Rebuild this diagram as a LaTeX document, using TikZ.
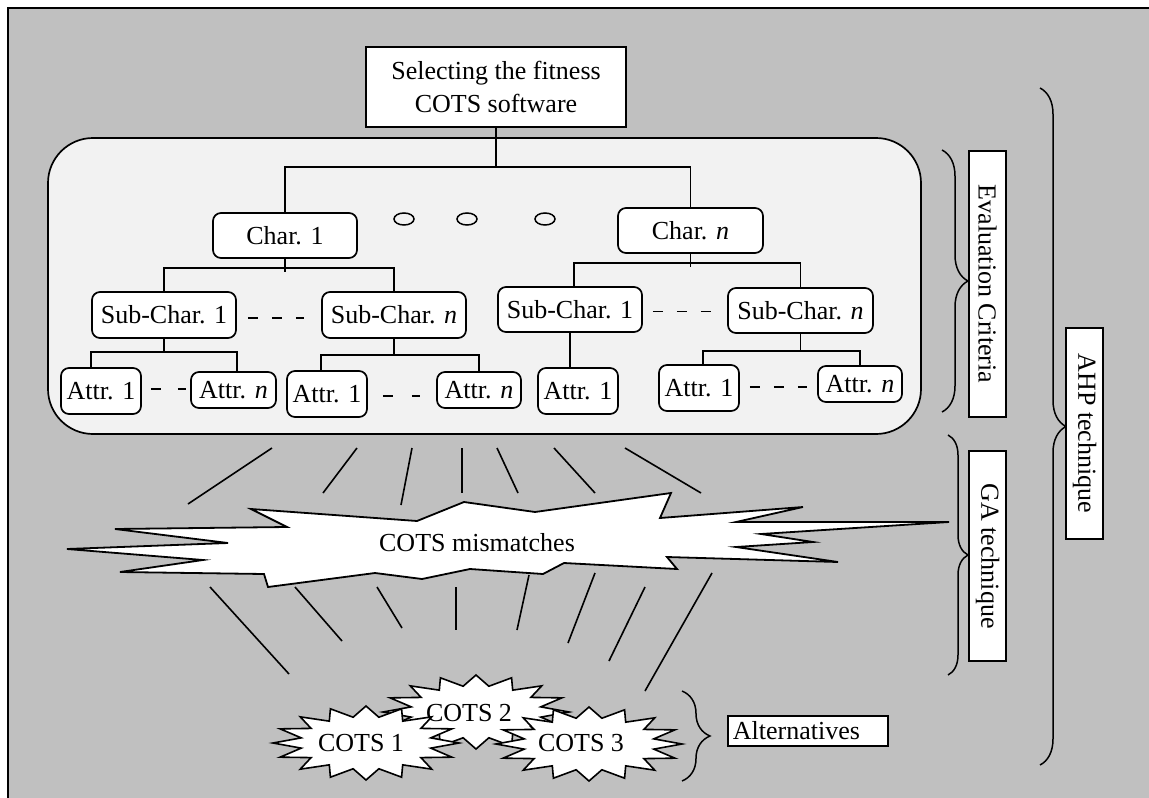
\documentclass[tikz,border=0pt]{standalone}
\usepackage{fontspec}
\setmainfont{Liberation Serif}
\usetikzlibrary{decorations.pathreplacing}
\definecolor{panel}{HTML}{C0C0C0}
\definecolor{critfill}{HTML}{F2F2F2}
\begin{document}
\begin{tikzpicture}[x=1pt,y=-1pt,
  txt/.style={font=\fontsize{26}{33}\selectfont},
  rbox/.style={txt, draw, fill=white, rounded corners=8pt, line width=1.7pt, inner sep=0pt},
  sbox/.style={txt, draw, fill=white, line width=1.7pt, inner sep=0pt},
  link/.style={line width=1.6pt},
  gap/.style={line width=1.6pt, dash pattern=on 10pt off 14pt},
  ray/.style={line width=1.6pt},
  burst/.style={draw, fill=white, line width=1.8pt, line join=miter},
  curly/.style={decorate, decoration={brace, amplitude=#1}, line width=1.5pt}
]
% page and grey panel
\useasboundingbox (0,0) rectangle (1149,798);
\fill[white] (0,0) rectangle (1149,798);
\clip (0,0) rectangle (1149,798);
\draw[fill=panel, line width=1.5pt] (8,8) rectangle (1170,820);

% evaluation-criteria area
\draw[fill=critfill, line width=1.7pt, rounded corners=45pt] (48,138) rectangle (921,434);

% goal
\node[sbox, minimum width=260pt, minimum height=80pt, align=center] (goal) at (496,87)
  {Selecting the fitness\\COTS software};

% characteristics
\node[rbox, minimum width=144pt, minimum height=45pt] (char1) at (285,235.5) {Char. 1};
\node[rbox, minimum width=145pt, minimum height=45pt] (charn) at (690.5,230.5) {Char. \textit{n}};
\foreach \cx in {404,467,545} \draw[line width=1.5pt] (\cx,219) ellipse [x radius=10pt, y radius=6pt];

% sub-characteristics
\node[rbox, minimum width=144pt, minimum height=46pt] (sc1a) at (164,315) {Sub-Char. 1};
\node[rbox, minimum width=144pt, minimum height=46pt] (scna) at (394,315) {Sub-Char. \textit{n}};
\node[rbox, minimum width=144pt, minimum height=45pt] (sc1b) at (570,309.5) {Sub-Char. 1};
\node[rbox, minimum width=145pt, minimum height=45pt] (scnb) at (800.5,310.5) {Sub-Char. \textit{n}};

% attributes
\node[rbox, minimum width=80pt, minimum height=46pt] (a1a) at (101,391) {Attr. 1};
\node[rbox, minimum width=85pt, minimum height=36pt] (ana) at (233.5,390) {Attr. \textit{n}};
\node[rbox, minimum width=80pt, minimum height=46pt] (a1b) at (327,394) {Attr. 1};
\node[rbox, minimum width=84pt, minimum height=36pt] (anb) at (479,390) {Attr. \textit{n}};
\node[rbox, minimum width=80pt, minimum height=46pt] (a1c) at (578,391) {Attr. 1};
\node[rbox, minimum width=80pt, minimum height=46pt] (a1d) at (699,388) {Attr. 1};
\node[rbox, minimum width=84pt, minimum height=36pt] (and) at (860,384) {Attr. \textit{n}};

% tree levels
\coordinate (lv1) at (0,167);
\coordinate (lv2a) at (0,268);
\coordinate (lv2b) at (0,263);
\coordinate (lv3a) at (0,352);
\coordinate (lv3b) at (0,355);
\coordinate (lv3d) at (0,351);

\draw[link] (goal.south) -- (goal.south |- lv1);
\draw[link] (char1.north) |- (charn.north |- lv1) -- (charn.north);

\draw[link] (char1.south) -- ([yshift=-4pt]char1.south |- lv2a);
\draw[link] (sc1a.north) |- (scna.north |- lv2a) -- (scna.north);
\draw[link] (charn.south) -- ([yshift=-4pt]charn.south |- lv2b);
\draw[link] ([xshift=4pt]sc1b.north) |- (scnb.north |- lv2b) -- (scnb.north);

\draw[link] (sc1a.south) -- (sc1a.south |- lv3a);
\draw[link] (sc1a.west |- a1a.north) |- (sc1a.east |- lv3a) -- (sc1a.east |- ana.north);
\draw[link] (scna.south) -- (scna.south |- lv3b);
\draw[link] (scna.west |- a1b.north) |- (anb.north |- lv3b) -- (anb.north);
\draw[link] (sc1b.south) -- (sc1b.south |- a1c.north);
\draw[link] (scnb.south) -- (scnb.south |- lv3d);
\draw[link] ([xshift=4pt]a1d.north) |- (and.north |- lv3d) -- (and.north);

% elision dashes
\coordinate (d1) at ([yshift=-3pt]sc1a.east);
\coordinate (d2) at ([yshift=-2pt]sc1b.east);
\coordinate (d3) at ([yshift=2pt]a1a.east);
\coordinate (d4) at ([yshift=-2pt]a1b.east);
\coordinate (d5) at ([yshift=1pt]a1d.east);
\draw[gap] ([xshift=11pt]d1) -- ([xshift=-17pt]scna.west |- d1);
\draw[gap] ([xshift=10pt]d2) -- ([xshift=-16pt]scnb.west |- d2);
\draw[gap, dash pattern=on 10pt off 17pt] ([xshift=9pt]d3) -- ([xshift=-4pt]ana.west |- d3);
\draw[gap, dash pattern=on 10pt off 19pt] ([xshift=15pt]d4) -- ([xshift=-16pt]anb.west |- d4);
\draw[gap] ([xshift=10pt]d5) -- ([xshift=-10pt]and.west |- d5);

% rays towards the mismatch burst
\draw[ray] (272,448) -- (188,504);
\draw[ray] (357,448) -- (323,493);
\draw[ray] (412,448) -- (401,505);
\draw[ray] (462,448) -- (462,493);
\draw[ray] (497,448) -- (518,493);
\draw[ray] (554,448) -- (595,493);
\draw[ray] (625,448) -- (701,493);

\draw[ray] (210,587) -- (289,674);
\draw[ray] (295,587) -- (342,641);
\draw[ray] (377,587) -- (402,628);
\draw[ray] (456,587) -- (456,630);
\draw[ray] (529,575) -- (517,630);
\draw[ray] (595,573) -- (568,643);
\draw[ray] (645,587) -- (609,661);
\draw[ray] (712,573) -- (645,691);

% mismatch burst
\draw[burst] (67,549) -- (228,543) -- (115,529) -- (287,527) -- (251,509) -- (417,521)
  -- (464,502) -- (535,512) -- (671,493) -- (660,518) -- (803,507) -- (736,522)
  -- (949,522) -- (761,534) -- (813,542) -- (736,547) -- (838,562) -- (667,557)
  -- (677,569) -- (564,563) -- (543,574) -- (470,569) -- (422,579) -- (375,573)
  -- (268,587) -- (264,574) -- (120,572) -- (203,560) -- cycle;
\node[txt] (mism) at (477,543) {COTS mismatches};

% alternative bursts
\foreach \cx/\cy in {476/712, 366/743, 589/744}
  \draw[burst, line width=1.6pt] plot[variable=\k, samples at={0,...,31}]
    ({\cx + 93*(1-0.29*mod(\k,2))*cos(\k*11.25)}, {\cy + 37*(1-0.29*mod(\k,2))*sin(\k*11.25)}) -- cycle;
\node[txt] (cots2) at (469,713) {COTS 2};
\node[txt] (cots1) at (361,743) {COTS 1};
\node[txt] (cots3) at (581,743) {COTS 3};

% braces and side labels
\draw[curly=26pt] (942,150) -- (942,412);
\node[sbox, rotate=-90, minimum width=266pt, minimum height=37pt] (evalc) at (987.5,284) {Evaluation Criteria};
\draw[curly=20pt] (948,435) -- (948,675);
\node[sbox, rotate=-90, minimum width=210pt, minimum height=37pt] (gatech) at (987.5,556) {GA technique};
\draw[curly=26pt] (1040,88) -- (1040,765);
\node[sbox, rotate=-90, minimum width=211pt, minimum height=37pt] (ahptech) at (1084.5,433.5) {AHP technique};
\draw[curly=28pt] (682,691) -- (682,781);
\node[sbox, anchor=west, minimum height=30pt, text width=150pt, inner xsep=5pt, align=left] (alt) at (727,731) {Alternatives};
\end{tikzpicture}
\end{document}
